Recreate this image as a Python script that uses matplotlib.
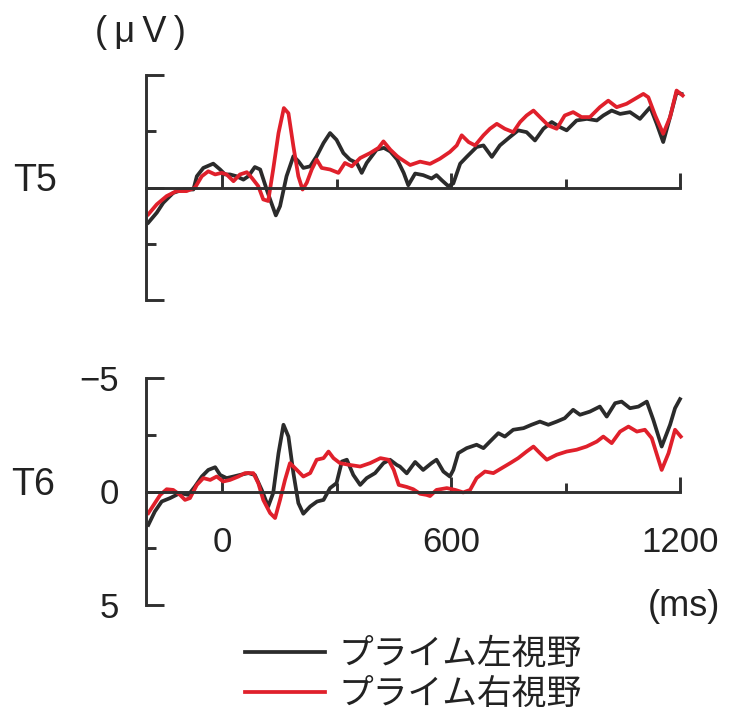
import matplotlib
matplotlib.use("Agg")
import matplotlib.pyplot as plt

plt.rcParams['font.family'] = ['Liberation Sans', 'Noto Sans CJK JP']

# grand-average waveforms (ms, microvolts), negative plotted upward
t5_left_ms = [-193, -171, -154, -128, -101, -75, -66, -49, -23, -5, 8, 21, 38, 56, 69, 86,
              100, 117, 126, 141, 152, 169, 187, 200, 213, 231, 248, 266, 283, 300, 318,
              335, 353, 366, 379, 405, 424, 441, 459, 476, 488, 506, 527, 549, 562, 576,
              593, 606, 624, 641, 667, 685, 707, 728, 754, 776, 798, 820, 842, 864, 886,
              903, 929, 956, 982, 999, 1021, 1043, 1069, 1095, 1122, 1139, 1156, 1174,
              1191, 1204]
t5_left_uv = [1.56, 1.12, 0.68, 0.24, 0.09, 0.09, -0.5, -0.87, -1.06, -0.8, -0.58, -0.58,
              -0.5, -0.35, -0.5, -0.91, -0.8, 0.09, 0.53, 1.24, 0.83, -0.5, -1.39, -1.17,
              -0.87, -0.94, -1.39, -1.98, -2.42, -2.12, -1.53, -1.24, -1.09, -0.65, -1.09,
              -1.68, -1.76, -1.6, -1.24, -0.65, -0.1, -0.62, -0.55, -0.4, -0.55, -0.32,
              -0.06, -0.18, -1.06, -1.36, -1.8, -1.87, -1.36, -1.87, -2.24, -2.54, -2.46,
              -2.09, -2.61, -2.91, -2.68, -2.54, -2.98, -3.05, -2.98, -3.2, -3.42, -3.27,
              -3.35, -3.05, -3.57, -2.83, -2.02, -3.13, -4.23, -4.16]

t5_right_ms = [-193, -171, -145, -119, -93, -71, -53, -36, -18, -1, 12, 30, 47, 65, 78, 95,
               108, 121, 134, 148, 162, 174, 187, 200, 211, 222, 235, 248, 261, 283, 305,
               322, 340, 362, 388, 410, 423, 441, 459, 466, 493, 519, 545, 571, 597, 615,
               628, 646, 663, 685, 702, 720, 741, 763, 781, 798, 816, 833, 855, 877, 898,
               920, 942, 964, 990, 1012, 1034, 1060, 1082, 1104, 1117, 1135, 1156, 1174,
               1191, 1207]
t5_right_uv = [1.19, 0.75, 0.38, 0.16, 0.16, 0.01, -0.5, -0.72, -0.58, -0.65, -0.58, -0.28,
               -0.58, -0.68, -0.43, -0.06, 0.53, 0.6, -0.8, -2.42, -3.53, -3.3, -1.83, -0.5,
               0.09, -0.21, -0.8, -1.24, -0.87, -0.8, -0.65, -1.09, -0.94, -1.31, -1.53,
               -1.76, -2.05, -1.68, -1.39, -1.3, -1.0, -1.15, -1.05, -1.28, -1.58, -1.87,
               -2.32, -2.02, -1.87, -2.32, -2.61, -2.83, -2.61, -2.46, -2.91, -3.2, -3.42,
               -3.13, -2.76, -2.61, -3.2, -3.35, -3.13, -3.13, -3.57, -3.86, -3.57, -3.72,
               -3.94, -4.16, -4.01, -3.2, -2.39, -3.13, -4.31, -4.09]

t6_left_ms = [-193, -176, -158, -136, -110, -88, -71, -53, -36, -18, -5, 12, 30, 47, 69, 86,
              104, 121, 134, 148, 161, 174, 187, 200, 213, 231, 249, 266, 283, 300, 314,
              327, 344, 362, 379, 401, 423, 440, 458, 466, 484, 506, 527, 549, 562, 580,
              597, 606, 619, 641, 667, 685, 702, 724, 741, 763, 790, 811, 833, 855, 877,
              898, 920, 938, 964, 990, 1008, 1030, 1047, 1069, 1091, 1113, 1130, 1152,
              1174, 1187, 1200]
t6_left_uv = [1.47, 0.88, 0.44, 0.29, 0.07, 0.15, -0.22, -0.66, -0.95, -1.07, -0.73, -0.59,
              -0.66, -0.73, -0.81, -0.73, -0.07, 0.66, 0.07, -1.69, -2.94, -2.42, -0.81,
              0.51, 0.98, 0.66, 0.44, 0.37, -0.15, -0.37, -1.32, -1.4, -0.73, -0.29, -0.59,
              -0.81, -1.25, -1.4, -1.17, -1.1, -0.8, -1.3, -0.95, -1.25, -1.4, -0.88, -0.66,
              -0.95, -1.69, -1.91, -2.06, -1.91, -2.2, -2.57, -2.42, -2.72, -2.79, -2.94,
              -3.08, -2.94, -3.08, -3.23, -3.6, -3.38, -3.52, -3.74, -3.3, -3.89, -3.96,
              -3.67, -3.74, -3.96, -3.16, -1.98, -2.94, -3.67, -4.07]

t6_right_ms = [-193, -176, -162, -145, -128, -110, -97, -84, -66, -49, -31, -14, 3, 21, 43,
               60, 82, 95, 108, 126, 139, 152, 165, 178, 196, 213, 231, 248, 266, 279, 292,
               309, 335, 362, 388, 415, 436, 450, 463, 484, 501, 519, 536, 545, 562, 589,
               611, 632, 650, 667, 689, 711, 733, 755, 776, 798, 816, 833, 851, 877, 903,
               929, 955, 982, 999, 1021, 1043, 1065, 1087, 1108, 1126, 1152, 1170, 1187,
               1202]
t6_right_uv = [0.95, 0.51, 0.15, -0.1, -0.07, 0.15, 0.37, 0.29, -0.29, -0.59, -0.51, -0.66,
               -0.44, -0.51, -0.66, -0.81, -0.81, -0.37, 0.37, 0.95, 1.17, 0.37, -0.51,
               -1.25, -0.95, -0.66, -0.81, -1.4, -1.47, -1.76, -1.47, -1.25, -1.17, -1.1,
               -1.25, -1.47, -1.4, -0.95, -0.29, -0.2, -0.1, 0.1, 0.15, 0.2, -0.07, -0.15,
               -0.07, 0.04, -0.07, -0.59, -0.88, -0.81, -1.03, -1.25, -1.47, -1.76, -1.98,
               -1.69, -1.4, -1.62, -1.76, -1.84, -1.98, -2.2, -2.42, -2.13, -2.64, -2.86,
               -2.64, -2.72, -2.35, -0.95, -1.69, -2.72, -2.42]

x_major = [0, 600, 1200]
x_minor = [300, 900]
y_major = [-5, 0, 5]
y_minor = [-2.5, 2.5]

labels = ['プライム左視野', 'プライム右視野']
colors = ['#2b2b2b', '#e0202b']
axis_color = '#303030'

W, H = 730, 723
fig = plt.figure(figsize=(W / 100, H / 100), dpi=100)


def add_panel(top, bottom):
    ax = fig.add_axes([145.7 / W, 1 - bottom / H, (680 - 145.7) / W, (bottom - top) / H])
    ax.set_xlim(-200, 1200)
    ax.set_ylim(5, -5)
    ax.spines['top'].set_visible(False)
    ax.spines['right'].set_visible(False)
    ax.spines['left'].set_bounds(-5, 5)
    ax.spines['bottom'].set_position(('data', 0))
    ax.spines['bottom'].set_bounds(-200, 1200)
    for s in ('left', 'bottom'):
        ax.spines[s].set_linewidth(2.1)
        ax.spines[s].set_color(axis_color)
    ax.set_xticks(x_major)
    ax.set_xticks(x_minor, minor=True)
    ax.set_yticks(y_major)
    ax.set_yticks(y_minor, minor=True)
    ax.tick_params(which='both', direction='in', width=2.1, color=axis_color,
                   labelsize=25, labelcolor='#222222')
    ax.tick_params(axis='y', which='major', length=13, pad=19)
    ax.tick_params(axis='y', which='minor', length=7)
    ax.tick_params(axis='x', which='major', length=11, pad=25)
    ax.tick_params(axis='x', which='minor', length=6.5)
    ax.patch.set_visible(False)
    return ax


ax1 = add_panel(75, 300)
ax2 = add_panel(378, 605)
ax1.tick_params(labelleft=False, labelbottom=False)

lw = 2.7
ax1.plot(t5_left_ms, t5_left_uv, color=colors[0], lw=lw, clip_on=False)
ax1.plot(t5_right_ms, t5_right_uv, color=colors[1], lw=lw, clip_on=False)
l1, = ax2.plot(t6_left_ms, t6_left_uv, color=colors[0], lw=lw, clip_on=False, label=labels[0])
l2, = ax2.plot(t6_right_ms, t6_right_uv, color=colors[1], lw=lw, clip_on=False, label=labels[1])

txt = dict(color='#222222', ha='center', va='center')
fig.text(140 / W, 1 - 32 / H, '(\u2009μ\u2009V\u2009)', fontsize=26, **txt)
fig.text(35 / W, 1 - 181 / H, 'T5', fontsize=27, **txt)
fig.text(33 / W, 1 - 485 / H, 'T6', fontsize=27, **txt)
fig.text(684 / W, 1 - 607 / H, '(ms)', fontsize=26, **txt)

fig.legend(handles=[l1, l2], loc='upper left', bbox_to_anchor=(245 / W, 1 - 638 / H),
           frameon=False, fontsize=25, borderpad=0, borderaxespad=0,
           handlelength=2.3, handletextpad=0.4, labelspacing=0.2,
           labelcolor='#222222')

fig.savefig('out.png', dpi=100, facecolor='white')
